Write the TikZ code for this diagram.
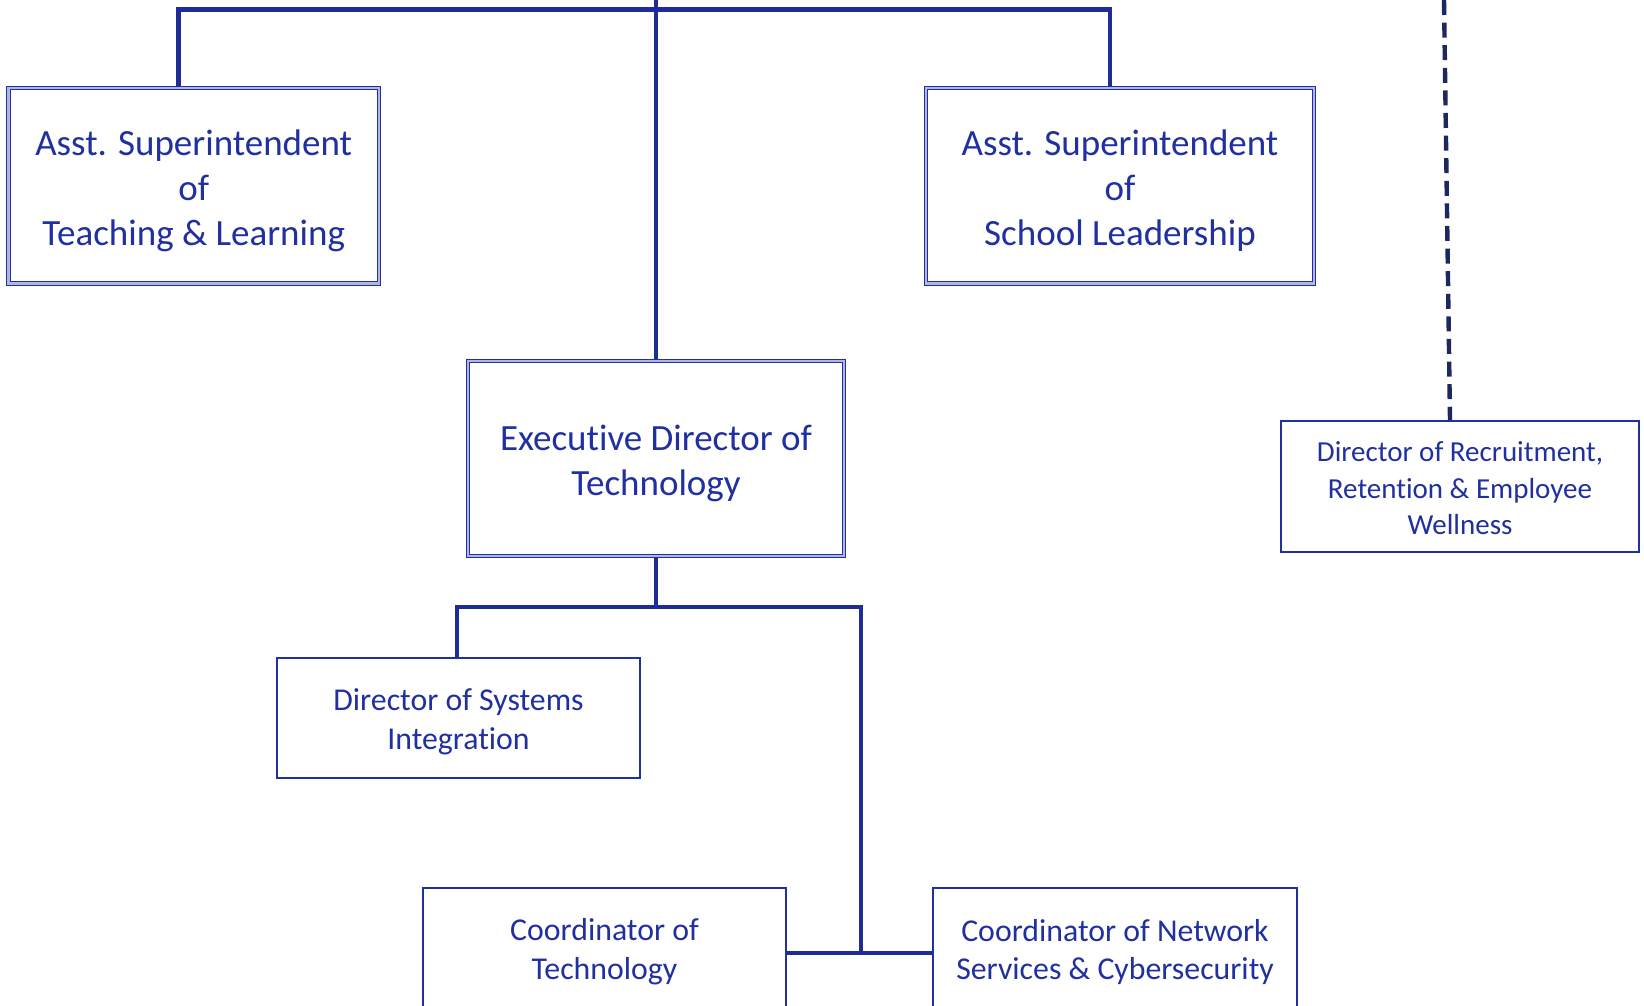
\documentclass[tikz,border=0pt]{standalone}
\usepackage{fontspec}
\setmainfont{Carlito}[Ligatures=CommonOff]
\definecolor{bblue}{RGB}{32,48,160}
\definecolor{lblue}{RGB}{30,44,150}
\definecolor{navy}{RGB}{28,40,95}
\begin{document}
\begin{tikzpicture}[x=0.5pt,y=-0.5pt,
  dbox/.style={draw=bblue, line width=0.5pt, double=bblue!35, double distance=1.2pt, fill=white, inner sep=0pt},
  sbox/.style={draw=bblue, line width=1pt, fill=white, inner sep=0pt},
  txt/.style={text=bblue, align=center, inner sep=0pt},
  big/.style={txt, font=\fontsize{18.5}{22.4}\selectfont},
  mid/.style={txt, font=\fontsize{15.9}{19.4}\selectfont},
  sml/.style={txt, font=\fontsize{14.5}{18.3}\selectfont},
  conn/.style={draw=lblue, line width=2.4pt},
  dconn/.style={draw=navy, line width=2.2pt, dash pattern=on 7.5pt off 3.8pt}]
\useasboundingbox (0,0) rectangle (1644,1006);
\fill[white] (0,0) rectangle (1644,1006);
% coordinates
\coordinate (top) at (656,0);
\coordinate (jl) at (178.5,9.5);
\coordinate (jr) at (1110,9.5);
\coordinate (k) at (656,607);
\coordinate (kl) at (457,607);
\coordinate (kr) at (861,607);
\coordinate (m) at (861,953);
\coordinate (dtop) at (1444,0);
\coordinate (db) at (1450,0);
% connectors first
\draw[conn] (top) -- (656,361);
\draw[conn] (178.5,90) -- (jl) -- (jr) -- (1110,90);
\draw[conn] (656,556) -- (k);
\draw[conn] (457,660) -- (kl) -- (kr) -- (m);
\draw[conn] (784,953) -- (935,953);
% boxes
\node[dbox, minimum width=185.3pt, minimum height=97.7pt] (tl) at (193.7,185.8) {};
\node[dbox, minimum width=194pt, minimum height=97.7pt] (sl) at (1120,185.8) {};
\node[dbox, minimum width=188pt, minimum height=97.5pt] (exec) at (656,458.5) {};
\node[sbox, minimum width=181.5pt, minimum height=60pt] (dsys) at (458.5,718) {};
\node[sbox, minimum width=181.5pt, minimum height=62pt] (ctech) at (604.5,950) {};
\node[sbox, minimum width=182pt, minimum height=62pt] (cnet) at (1115,950) {};
\node[sbox, minimum width=179pt, minimum height=65.5pt] (drec) at (1460,486.5) {};
% texts
\node[big] (tl-t) at ([yshift=-2.5pt]tl.center) {Asst. Superintendent\\of\\Teaching \& Learning};
\node[big] (sl-t) at ([yshift=-2.5pt]sl.center) {Asst. Superintendent\\of\\School Leadership};
\node[big] (exec-t) at ([yshift=-2.5pt]exec.center) {Executive Director of\\Technology};
\node[mid] (dsys-t) at ([yshift=-1.8pt]dsys.center) {Director of Systems\\Integration};
\node[mid] (ctech-t) at ([yshift=-1pt]ctech.center) {Coordinator of\\Technology};
\node[mid] (cnet-t) at ([yshift=-1pt]cnet.center) {Coordinator of Network\\Services \& Cybersecurity};
\node[sml] (drec-t) at ([yshift=-1pt]drec.center) {Director of Recruitment,\\Retention \& Employee\\Wellness};
% dashed
\draw[dconn] (dtop) -- (drec.north -| db);
\end{tikzpicture}
\end{document}
